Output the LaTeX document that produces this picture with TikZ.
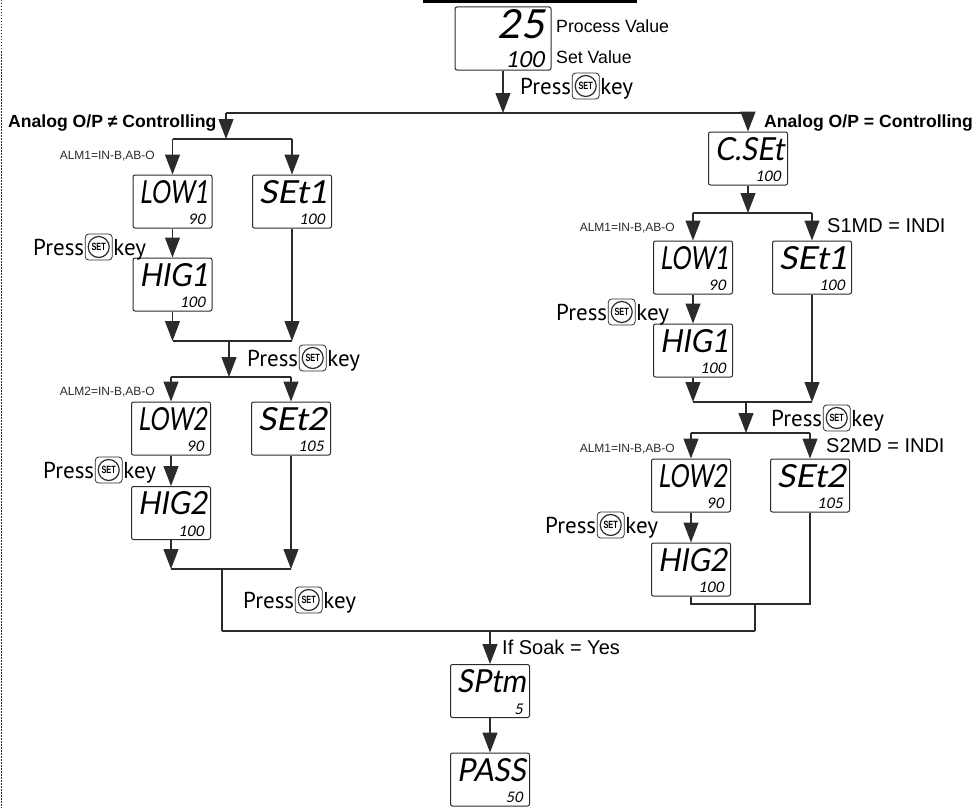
\documentclass[tikz,border=0pt]{standalone}
\usepackage{fontspec}
\usepackage{graphicx}
\setmainfont{Liberation Sans}
\newfontfamily\pressfont{PT Sans}
\newfontfamily\segfont[FakeSlant=0.18]{Lato}
\usetikzlibrary{arrows.meta,positioning}
\definecolor{ln}{HTML}{2B2B2B}
\tikzset{
  conn/.style={draw=ln, line width=1.2pt},
  arr/.style={conn, -{Triangle[width=15pt,length=20pt]}},
  dbox/.style={draw=ln, line width=1pt, rounded corners=2pt, minimum width=79pt, minimum height=53pt, inner sep=0pt},
  seg/.style={inner sep=0pt, font=\segfont},
  presstxt/.style={inner sep=0pt, font=\pressfont\fontsize{23}{26}\selectfont, text height=16pt, text depth=0pt},
  keybox/.style={draw=ln, line width=0.8pt, rounded corners=3.5pt, minimum width=27pt, minimum height=26pt, inner sep=0pt},
  keycirc/.style={draw=ln, line width=1.2pt, circle, minimum size=21pt, inner sep=0pt, font=\bfseries\fontsize{10.5}{10.5}\selectfont},
  lab/.style={inner sep=0pt, anchor=west, font=\fontsize{17.7}{20}\selectfont, text height=12.7pt, text depth=0pt},
  labm/.style={inner sep=0pt, anchor=west, font=\fontsize{20}{22}\selectfont, text height=14.3pt, text depth=0pt},
  alm/.style={inner sep=0pt, anchor=east, text=ln, font=\fontsize{12}{14}\selectfont, text height=8.6pt, text depth=0pt},
  ana/.style={inner sep=0pt, anchor=west, font=\bfseries\fontsize{17.6}{20}\selectfont, text height=12.6pt, text depth=0pt}
}
\newcommand\disp[5]{%
  \node[dbox] (#1) at (#2,#3) {};
  \node[seg, anchor=north east] (#1-b) at ([xshift=-4pt,yshift=-5.5pt]#1.north east) {\resizebox{69pt}{23pt}{#4}};
  \node[seg, anchor=south east] (#1-s) at ([xshift=-7pt,yshift=3.5pt]#1.south east) {\resizebox{!}{10.5pt}{#5}};
}
\newcommand\presskey[3]{%
  \node[presstxt, anchor=west] (#1-p) at (#2,#3) {Press};
  \node[keybox, right=0.5pt of #1-p] (#1-k) {};
  \node[keycirc] (#1-c) at (#1-k) {\scalebox{0.7}[1]{SET}};
  \node[presstxt, right=0.5pt of #1-k] (#1-y) {key};
}
\begin{document}
\begin{tikzpicture}[x=1pt,y=-1pt]
\useasboundingbox (0,0) rectangle (976,808);
% frame details
\draw[ln, line width=1pt, dash pattern=on 1.5pt off 1.5pt] (1.5,0) -- (1.5,808);
\fill[black] (423,0) rectangle (637,3.5);

% top display
\node[draw=ln, line width=1pt, rounded corners=2pt, minimum width=96pt, minimum height=63pt, inner sep=0pt] (pv) at (503,38.5) {};
\node[seg, anchor=north east] (pv-b) at ([xshift=-7pt,yshift=-3pt]pv.north east) {\resizebox{!}{29pt}{25}};
\node[seg, anchor=south east] (pv-s) at ([xshift=-7pt,yshift=3pt]pv.south east) {\resizebox{!}{16pt}{100}};
\node[lab] (pvl) at (556,26) {Process Value};
\node[lab] (svl) at (556,57) {Set Value};
\presskey{pk0}{520}{86}

% branch labels
\node[ana] (anl) at (8,121.5) {Analog O/P ≠ Controlling};
\node[ana] (anr) at (764,121) {Analog O/P = Controlling};

% left branch displays
\disp{lo1}{172.5}{201.5}{LOW1}{90}
\disp{set1}{292}{201.5}{SEt1}{100}
\disp{hig1}{172.5}{284.5}{HIG1}{100}
\disp{lo2}{171}{428.5}{LOW2}{90}
\disp{set2}{291}{428.5}{SEt2}{105}
\disp{hig2}{171}{513}{HIG2}{100}

% right branch displays
\disp{cset}{748}{158.5}{C.SEt}{100}
\disp{rlo1}{693}{267.5}{LOW1}{90}
\disp{rset1}{812}{267.5}{SEt1}{100}
\disp{rhig1}{693}{350.5}{HIG1}{100}
\disp{rlo2}{691}{485.5}{LOW2}{90}
\disp{rset2}{810}{485.5}{SEt2}{105}
\disp{rhig2}{691}{569.5}{HIG2}{100}

% bottom displays
\disp{sptm}{490}{691}{SPtm}{5}
\disp{pass}{490}{779.5}{PASS}{50}

% small labels
\node[alm] (al1) at (155,155) {ALM1=IN-B,AB-O};
\node[alm] (al2) at (155,391) {ALM2=IN-B,AB-O};
\node[alm] (al3) at (675,227) {ALM1=IN-B,AB-O};
\node[alm] (al4) at (675,448) {ALM1=IN-B,AB-O};
\node[labm] (s1) at (827,225) {S1MD = INDI};
\node[labm] (s2) at (826,445) {S2MD = INDI};
\node[labm] (soak) at (502,647) {If Soak = Yes};

% press key labels
\presskey{pk1}{33}{247}
\presskey{pk2}{247}{358}
\presskey{pk3}{43}{470}
\presskey{pk4}{243}{600}
\presskey{pk5}{556}{312}
\presskey{pk6}{771}{418}
\presskey{pk7}{545}{525}

% coordinates
\coordinate (ta) at (226,113);
\coordinate (tb) at (748,113);
\coordinate (la) at (226,139);
\coordinate (lm1) at (229,341);
\coordinate (ls2) at (229,377);
\coordinate (lm2) at (222,569);
\coordinate (bl) at (222,631);
\coordinate (rs1) at (748,213);
\coordinate (rm1) at (746,402);
\coordinate (rs2) at (746,433);
\coordinate (rm2) at (755,604);
\coordinate (br) at (755,631);
\coordinate (bm) at (490,631);

% top connectors
\draw[arr] (pv) -- (pv.south |- ta);
\draw[conn] (ta) -- (tb);
\draw[arr] (ta) -- (la);
\draw[arr] (tb) -- (cset);

% left connectors
\draw[conn] (lo1 |- la) -- (set1 |- la);
\draw[arr] (lo1 |- la) -- (lo1);
\draw[arr] (set1 |- la) -- (set1);
\draw[arr] (lo1) -- (hig1);
\draw[arr] (hig1) -- (hig1 |- lm1);
\draw[arr] (set1) -- (set1 |- lm1);
\draw[conn] (hig1 |- lm1) -- (set1 |- lm1);
\draw[arr] (lm1) -- (ls2);
\draw[conn] (lo2 |- ls2) -- (set2 |- ls2);
\draw[arr] (lo2 |- ls2) -- (lo2);
\draw[arr] (set2 |- ls2) -- (set2);
\draw[arr] (lo2) -- (hig2);
\draw[arr] (hig2) -- (hig2 |- lm2);
\draw[arr] (set2) -- (set2 |- lm2);
\draw[conn] (hig2 |- lm2) -- (set2 |- lm2);
\draw[conn] (lm2) -- (bl);

% right connectors
\draw[arr] (cset) -- (rs1);
\draw[conn] (rlo1 |- rs1) -- (rset1 |- rs1);
\draw[arr] (rlo1 |- rs1) -- (rlo1);
\draw[arr] (rset1 |- rs1) -- (rset1);
\draw[arr] (rlo1) -- (rhig1);
\draw[arr] (rhig1) -- (rhig1 |- rm1);
\draw[arr] (rset1) -- (rset1 |- rm1);
\draw[conn] (rhig1 |- rm1) -- (rset1 |- rm1);
\draw[arr] (rm1) -- (rs2);
\draw[conn] (rlo2 |- rs2) -- (rset2 |- rs2);
\draw[arr] (rlo2 |- rs2) -- (rlo2);
\draw[arr] (rset2 |- rs2) -- (rset2);
\draw[arr] (rlo2) -- (rhig2);
\draw[conn] (rhig2) -- (rhig2 |- rm2) -- (rset2 |- rm2) -- (rset2);
\draw[conn] (rm2) -- (br);

% bottom
\draw[conn] (bl) -- (br);
\draw[arr] (bm) -- (sptm);
\draw[arr] (sptm) -- (pass);
\end{tikzpicture}
\end{document}
